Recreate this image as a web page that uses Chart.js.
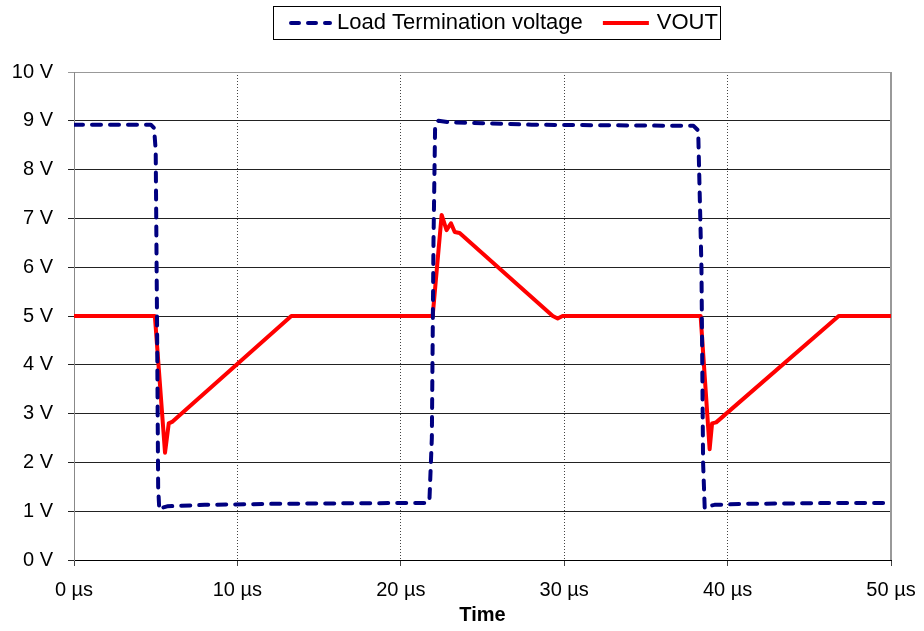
<!DOCTYPE html>
<html lang="en">

<head>
  <meta charset="UTF-8">
  <title>Load termination</title>
  <script src="https://cdn.jsdelivr.net/npm/chart.js@4.4.0/dist/chart.umd.min.js"></script>
</head>
<style>
  body { margin: 0; background: #fff; }
  #wrap { width: 924px; height: 631px; }
</style>

<body>
  <div id="wrap">
    <canvas id="scopeChart" width="924" height="631"></canvas>
  </div>

  <script>
    // time in µs, values in V
    const loadT = [0, 2, 4, 4.7, 4.9, 5.0, 5.08, 5.15, 5.22, 5.4, 5.7, 8, 12, 16, 21.5, 21.75, 21.9, 22.0, 22.1, 22.3, 23, 25, 28, 32, 36, 37.9, 38.2, 38.4, 38.5, 38.6, 38.8, 39.2, 41, 44, 47, 50];
    const loadV = [8.92, 8.92, 8.92, 8.92, 8.85, 8.4, 5.0, 1.5, 1.03, 1.07, 1.1, 1.13, 1.15, 1.16, 1.17, 1.2, 2.5, 6.5, 8.9, 9.0, 8.97, 8.95, 8.92, 8.91, 8.9, 8.9, 8.8, 6.0, 2.0, 1.06, 1.1, 1.13, 1.15, 1.16, 1.17, 1.17];
    const voutT = [0, 4.95, 5.57, 5.8, 6.0, 13.3, 13.5, 21.95, 22.5, 22.8, 23.07, 23.3, 23.6, 29.3, 29.6, 29.9, 38.35, 38.9, 39.05, 39.3, 46.8, 47.0, 50];
    const voutV = [5.0, 5.0, 2.2, 2.8, 2.83, 5.0, 5.0, 5.0, 7.07, 6.76, 6.9, 6.72, 6.7, 5.0, 4.95, 5.0, 5.0, 2.27, 2.8, 2.82, 5.0, 5.0, 5.0];
    const xTicks = [0, 10, 20, 30, 40, 50];
    const yTicks = [0, 1, 2, 3, 4, 5, 6, 7, 8, 9, 10];

    const toPoints = (xs, ys) => xs.map((x, i) => ({ x: x, y: ys[i] }));

    // little line samples for the legend
    function legendLine(color, dash, from, to) {
      const c = document.createElement('canvas');
      c.width = 72;
      c.height = 8;
      const g = c.getContext('2d');
      g.strokeStyle = color;
      g.lineWidth = 4;
      g.lineCap = dash ? 'round' : 'butt';
      g.setLineDash(dash || []);
      g.beginPath();
      g.moveTo(from, 4);
      g.lineTo(to, 4);
      g.stroke();
      return c;
    }

    Chart.defaults.font.family = "'Liberation Sans', Arial, sans-serif";
    Chart.defaults.color = '#000';

    // legend sits right of centre, with a frame and extra room below it
    const legendFrame = {
      id: 'legendFrame',
      beforeLayout(chart) {
        const lg = chart.legend;
        if (lg && !lg.$patched) {
          const fit = lg.fit.bind(lg);
          lg.fit = function () { fit(); this.height += 28; };
          lg.$patched = true;
        }
      },
      beforeUpdate(chart) { chart.$legendMoved = false; },
      beforeDraw(chart) {
        const lg = chart.legend;
        if (chart.$legendMoved || !lg.legendHitBoxes.length) return;
        const d = 274 - lg.legendHitBoxes[0].left;
        lg.left += d;
        lg.right += d;
        lg.legendHitBoxes.forEach(hb => { hb.left += d; });
        chart.$legendMoved = true;
      },
      beforeDatasetsDraw(chart) {
        // grey edge on the right of the plot
        const a = chart.chartArea;
        const ctx = chart.ctx;
        ctx.save();
        ctx.strokeStyle = '#999';
        ctx.lineWidth = 2;
        ctx.beginPath();
        ctx.moveTo(a.right, a.top);
        ctx.lineTo(a.right, a.bottom);
        ctx.stroke();
        ctx.restore();
      },
      afterDraw(chart) {
        const boxes = chart.legend.legendHitBoxes;
        if (!boxes || !boxes.length) return;
        const l = boxes[0].left - 1;
        const last = boxes[boxes.length - 1];
        const r = last.left + last.width + 2;
        const t = boxes[0].top - 6;
        const b = boxes[0].top + boxes[0].height + 5;
        const ctx = chart.ctx;
        ctx.save();
        ctx.strokeStyle = '#000';
        ctx.lineWidth = 1;
        ctx.strokeRect(Math.round(l) + 0.5, Math.round(t) + 0.5, Math.round(r - l), Math.round(b - t));
        ctx.restore();
      }
    };

    new Chart('scopeChart', {
      type: 'line',
      data: {
        datasets: [{
          label: 'Load Termination voltage',
          data: toPoints(loadT, loadV),
          borderColor: '#000080',
          backgroundColor: '#000080',
          borderWidth: 4,
          borderDash: [9, 9],
          borderCapStyle: 'round',
          borderJoinStyle: 'round',
          pointRadius: 0,
          pointStyle: legendLine('#000080', [8, 9], 27, 66),
          tension: 0
        }, {
          label: 'VOUT',
          data: toPoints(voutT, voutV),
          borderColor: '#ff0000',
          backgroundColor: '#ff0000',
          borderWidth: 4,
          borderJoinStyle: 'round',
          pointRadius: 0,
          pointStyle: legendLine('#ff0000', null, 19, 65),
          tension: 0
        }]
      },
      options: {
        responsive: false,
        animation: false,
        layout: { padding: { left: 0, right: 33, top: 1, bottom: 0 } },
        plugins: {
          legend: {
            position: 'top',
            labels: {
              font: { size: 22 },
              usePointStyle: true,
              pointStyleWidth: 52,
              padding: 11
            }
          },
          tooltip: { enabled: false }
        },
        scales: {
          x: {
            type: 'linear',
            min: 0,
            max: 50,
            afterBuildTicks: s => { s.ticks = xTicks.map(v => ({ value: v })); },
            ticks: {
              font: { size: 20 },
              padding: 12,
              maxRotation: 0,
              callback: v => v + ' µs'
            },
            grid: { color: '#444', lineWidth: 1, tickLength: 6 },
            border: { color: '#000', width: 1, dash: [1, 2] },
            title: { display: true, text: 'Time', font: { size: 20, weight: 'bold' }, padding: { top: 0, bottom: 4 } },
            afterFit: s => { s.height = 71; s.paddingRight = 20; }
          },
          y: {
            min: 0,
            max: 10,
            afterBuildTicks: s => { s.ticks = yTicks.map(v => ({ value: v })); },
            ticks: {
              font: { size: 20 },
              padding: 15,
              callback: v => v + ' V'
            },
            grid: {
              color: c => (c.tick && c.tick.value === 10 ? '#999' : '#222'),
              lineWidth: 1,
              tickLength: 6
            },
            border: { color: '#888', width: 1 },
            afterFit: s => { s.width = 74; }
          }
        }
      },
      plugins: [legendFrame]
    });
  </script>
</body>

</html>
